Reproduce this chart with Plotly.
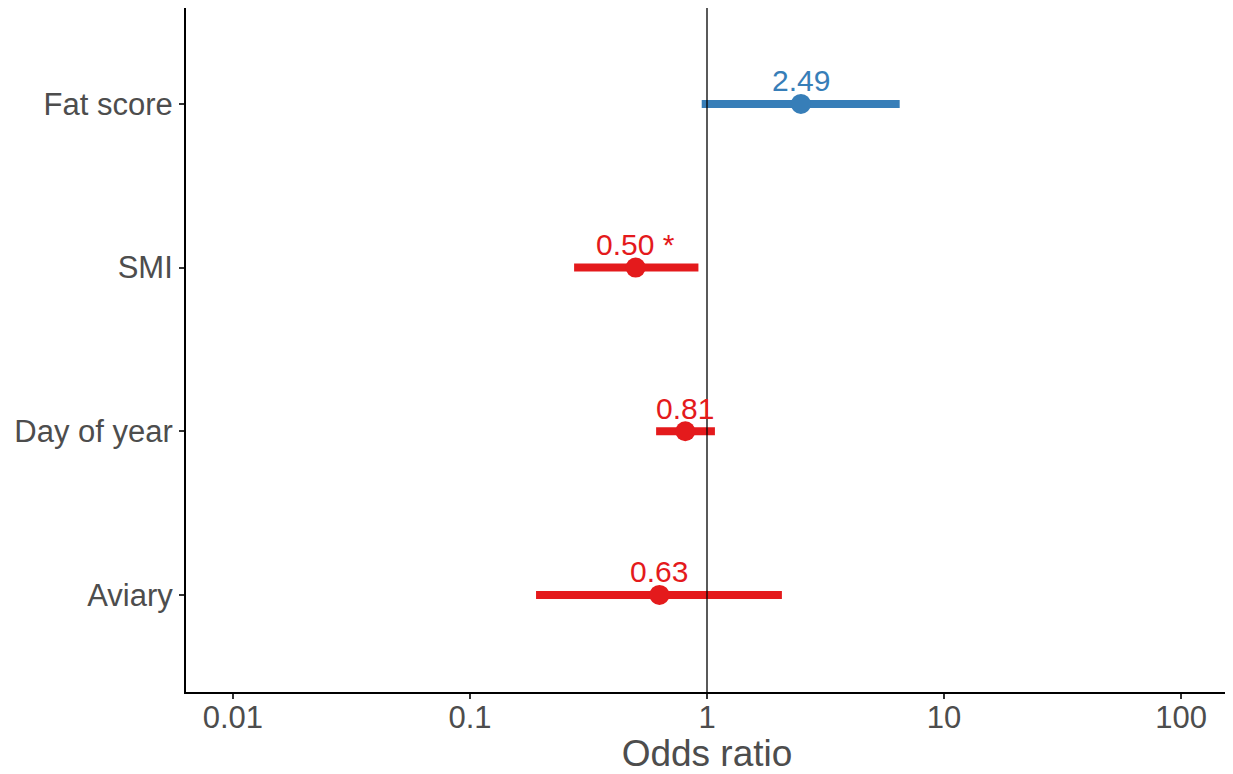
import math
import plotly.graph_objects as go

categories = ["Fat score", "SMI", "Day of year", "Aviary"]
odds = [2.49, 0.50, 0.81, 0.63]
ci_low = [0.95, 0.275, 0.61, 0.19]
ci_high = [6.5, 0.92, 1.08, 2.07]
labels = ["2.49", "0.50 *", "0.81", "0.63"]
colors = ["#377EB8", "#E41A1C", "#E41A1C", "#E41A1C"]
x_ticks = [0.01, 0.1, 1, 10, 100]
x_tick_labels = ["0.01", "0.1", "1", "10", "100"]

ypos = {c: len(categories) - i for i, c in enumerate(categories)}

fig = go.Figure()
fig.add_shape(type="line", x0=1, x1=1, y0=0, y1=1, xref="x", yref="paper",
              line=dict(color="black", width=1.3))
annotations = []
for c, o, lo, hi, lab, col in zip(categories, odds, ci_low, ci_high, labels, colors):
    y = ypos[c]
    fig.add_trace(go.Scatter(x=[lo, hi], y=[y, y], mode="lines",
                             line=dict(color=col, width=8), showlegend=False, hoverinfo="skip"))
    fig.add_trace(go.Scatter(x=[o], y=[y], mode="markers",
                             marker=dict(color=col, size=20), showlegend=False))
    annotations.append(dict(x=math.log10(o), y=y, xref="x", yref="y", text=lab, showarrow=False,
                            xanchor="center", yanchor="middle", yshift=23,
                            font=dict(color=col, size=30, family="Liberation Sans")))

fig.update_layout(
    width=1225, height=766,
    margin=dict(l=178, r=5, t=0, b=82),
    plot_bgcolor="white", paper_bgcolor="white",
    font=dict(family="Liberation Sans", color="#4D4D4D"),
    annotations=annotations,
    xaxis=dict(type="log", range=[-2.198, 2.198], tickvals=x_ticks, ticktext=x_tick_labels,
               showgrid=False, zeroline=False, showline=True, linecolor="black", linewidth=2,
               ticks="outside", ticklen=5, tickwidth=2, tickcolor="#333333",
               ticklabelstandoff=-8, automargin=False,
               tickfont=dict(size=31, color="#4D4D4D"),
               title=dict(text="Odds ratio", font=dict(size=37, color="#4D4D4D"), standoff=9)),
    yaxis=dict(range=[0.407, 4.586], tickvals=[ypos[c] for c in categories], ticktext=categories,
               showgrid=False, zeroline=False, showline=True, linecolor="black", linewidth=2,
               ticks="outside", ticklen=5, tickwidth=2, tickcolor="#333333", automargin=False,
               tickfont=dict(size=31, color="#4D4D4D")),
)
fig.write_html("out.html")
